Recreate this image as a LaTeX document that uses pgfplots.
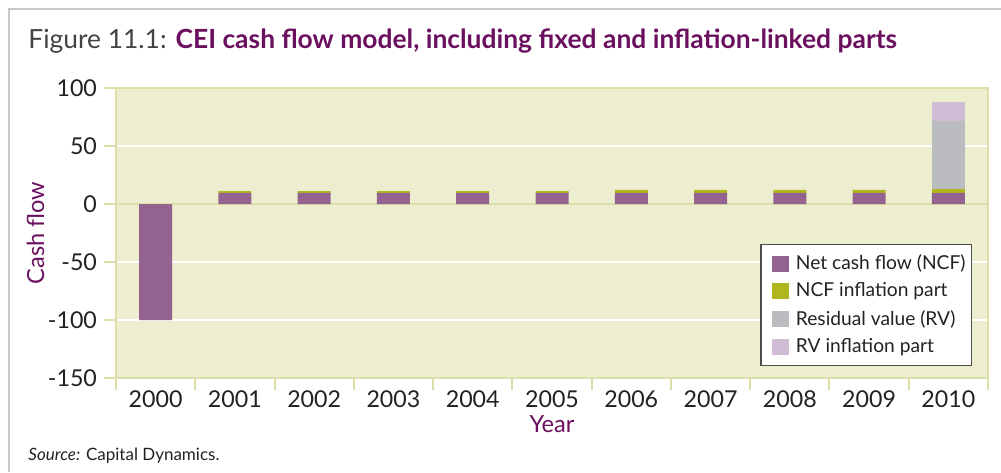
\documentclass[border=0pt]{standalone}
\usepackage{pgfplots}
\usepackage{pgfplotstable}
\pgfplotsset{compat=1.18}
\usepackage{fontspec}
\setmainfont{Lato}

\definecolor{ncf}{HTML}{93628F}
\definecolor{ncfinf}{HTML}{B0B61E}
\definecolor{rv}{HTML}{BBBCBF}
\definecolor{rvinf}{HTML}{D1BCD5}
\definecolor{plotbg}{HTML}{EDEED0}
\definecolor{axcol}{HTML}{DCDFA8}
\definecolor{titlecol}{HTML}{6B0F5F}
\definecolor{framecol}{HTML}{C8C8C8}
\definecolor{txt}{HTML}{222222}

% year index, net cash flow, NCF inflation part, residual value, RV inflation part
\pgfplotstableread{
x  ncf   ncfinf  rv    rvinf
0  -100  0       0     0
1  9.5   1.6     0     0
2  9.5   1.6     0     0
3  9.5   1.6     0     0
4  9.5   1.6     0     0
5  9.5   1.6     0     0
6  9.5   2.6     0     0
7  9.5   2.6     0     0
8  9.5   2.6     0     0
9  9.5   2.6     0     0
10 9.5   3.4     58.6  16.4
}\cashflow

\begin{document}
\begin{tikzpicture}
  \useasboundingbox (-58pt,-47pt) rectangle (442.5pt,189pt);
  % outer frame (left and top only, the rest is cropped)
  \draw[framecol, line width=0.8pt] (-53.5pt,-47pt) -- (-53.5pt,184.5pt) -- (442.5pt,184.5pt);

  \begin{axis}[
    at={(0,0)}, anchor=south west,
    scale only axis,
    width=436pt, height=145pt,
    ybar stacked,
    bar width=16.5pt,
    xmin=-0.5, xmax=10.5,
    ymin=-150, ymax=100,
    axis background/.style={fill=plotbg},
    axis line style={axcol, line width=1pt},
    xtick={0,...,10},
    xticklabels={2000,2001,2002,2003,2004,2005,2006,2007,2008,2009,2010},
    minor xtick={-0.5,0.5,...,10.5},
    major x tick style={draw=none},
    minor x tick style={axcol, line width=1pt},
    minor tick length=6pt,
    ytick={-150,-100,-50,50,100},
    yticklabels={-150,-100,-50,50,100},
    extra y ticks={0},
    extra y tick labels={0},
    extra y tick style={grid style={axcol, line width=1pt}},
    major y tick style={axcol, line width=1pt},
    major tick length=6pt,
    tick align=outside,
    xtick pos=bottom, ytick pos=left,
    ymajorgrids=true,
    grid style={white, line width=1pt},
    tick label style={font=\fontsize{11.6}{13}\selectfont, text=txt},
    xticklabel style={yshift=3pt},
    ylabel={Cash flow},
    xlabel={Year},
    label style={font=\fontsize{11.8}{13}\selectfont, text=titlecol},
    ylabel style={yshift=-17pt},
    xlabel style={yshift=3pt},
    legend style={
      at={(0.9817,0.462)}, anchor=north east,
      draw=black!70, fill=white, line width=0.6pt,
      font=\fontsize{9.6}{11}\selectfont, text=txt,
      row sep=1.2pt, inner xsep=1pt, inner ysep=3pt,
    },
    legend cell align=left,
    legend image code/.code={
      \path (0pt,0pt) (14.5pt,0pt);
      \fill[#1] (4.5pt,-4pt) rectangle (13pt,4pt);},
  ]
    \addplot[fill=ncf, draw=none] table[x=x, y=ncf] {\cashflow};
    \addplot[fill=ncfinf, draw=none] table[x=x, y=ncfinf] {\cashflow};
    \addplot[fill=rv, draw=none] table[x=x, y=rv] {\cashflow};
    \addplot[fill=rvinf, draw=none] table[x=x, y=rvinf] {\cashflow};
    \legend{Net cash flow (NCF), NCF inflation part, Residual value (RV), RV inflation part}
  \end{axis}

  \node[anchor=base west, inner sep=0pt, font=\fontsize{13.2}{15}\selectfont]
    at (-44pt,164.5pt) {\textcolor{txt!85}{Figure 11.1:} \textcolor{titlecol}{\bfseries CEI cash flow model, including fixed and inflation-linked parts}};
  \node[anchor=base west, inner sep=0pt, font=\fontsize{8.5}{10}\selectfont, text=txt]
    at (-44pt,-41pt) {\textit{Source:} Capital Dynamics.};
\end{tikzpicture}
\end{document}
